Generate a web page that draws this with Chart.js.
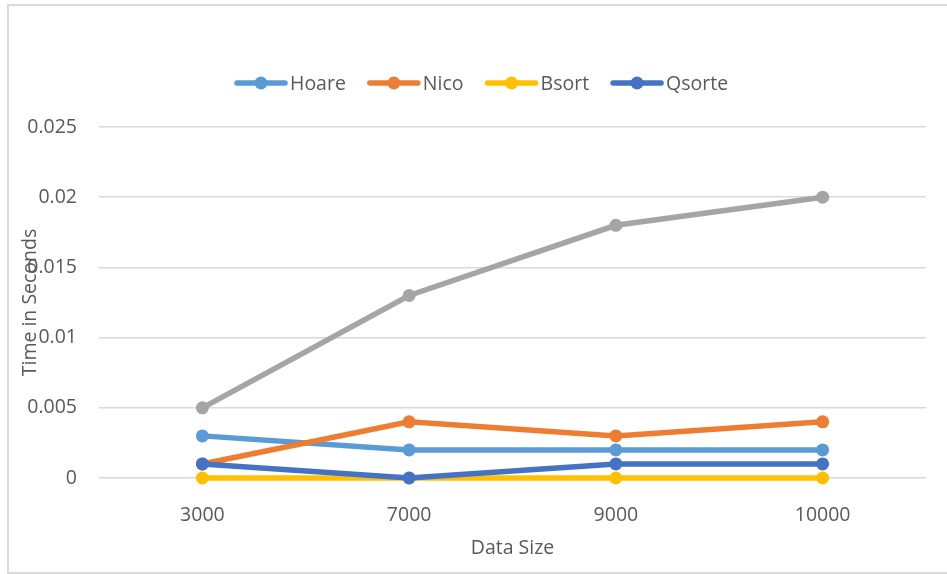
<!DOCTYPE html>
<html>
<head>
<meta charset="utf-8">
<script src="https://cdn.jsdelivr.net/npm/chart.js@4"></script>
<style>
    body { margin: 0; background: #fff; overflow: hidden; }
    #frame { position: absolute; left: 7px; top: 4px; width: 1000px; height: 570px; border: 2px solid #d9d9d9; box-sizing: border-box; }
    #wrap { position: absolute; left: 0; top: 0; width: 947px; height: 574px; }
</style>
</head>
<body>
<div id="frame"></div>
<div id="wrap"><canvas id="myChart" width="947" height="574"></canvas></div>
<script>
// 数据
const dataSizes = ['3000', '7000', '9000', '10000'];
const hoare = [0.003, 0.002, 0.002, 0.002];
const nico = [0.001, 0.004, 0.003, 0.004];
const bsort = [0, 0, 0, 0];
const qsorte = [0.001, 0, 0.001, 0.001];
const series5 = [0.005, 0.013, 0.018, 0.02];
const yTickLabels = ['0', '0.005', '0.01', '0.015', '0.02', '0.025'];

const FONT = '"Open Sans", "Noto Sans", sans-serif';
const TEXT = '#595959';

function line(label, data, color, order) {
    return {
        label: label,
        data: data,
        borderColor: color,
        backgroundColor: color,
        borderWidth: 5.5,
        pointRadius: 6.5,
        pointBorderWidth: 0,
        pointBackgroundColor: color,
        tension: 0,
        clip: false,
        order: order
    };
}

// 图例和坐标轴标题
const extras = {
    id: 'extras',
    afterDraw(chart) {
        const ctx = chart.ctx;
        const area = chart.chartArea;
        ctx.save();
        ctx.font = '19.5px ' + FONT;
        ctx.fillStyle = TEXT;
        ctx.textBaseline = 'middle';

        // legend
        let x = 235;
        const y = 83;
        chart.data.datasets.forEach(ds => {
            if (!ds.inLegend) return;
            ctx.strokeStyle = ds.borderColor;
            ctx.lineWidth = 5.5;
            ctx.lineCap = 'round';
            ctx.beginPath();
            ctx.moveTo(x + 2, y);
            ctx.lineTo(x + 50, y);
            ctx.stroke();
            ctx.fillStyle = ds.borderColor;
            ctx.beginPath();
            ctx.arc(x + 26, y, 6.5, 0, Math.PI * 2);
            ctx.fill();
            ctx.fillStyle = TEXT;
            ctx.textAlign = 'left';
            ctx.fillText(ds.label, x + 55, y + 1);
            x += 55 + ctx.measureText(ds.label).width + 22;
        });

        // x title
        ctx.textAlign = 'center';
        ctx.fillText('Data Size', (area.left + area.right) / 2, 548);

        // y title
        ctx.translate(30, (area.top + area.bottom) / 2);
        ctx.rotate(-Math.PI / 2);
        ctx.fillText('Time in Seconds', 0, 0);
        ctx.restore();
    }
};

const datasets = [
    line('Hoare', hoare, '#5b9bd5', 4),
    line('Nico', nico, '#ed7d31', 3),
    line('Bsort', bsort, '#ffc000', 2),
    line('Qsorte', qsorte, '#4472c4', 1),
    line('Series5', series5, '#a5a5a5', 0)
];
datasets.forEach(ds => { ds.inLegend = ds.label !== 'Series5'; });

const ctx = document.getElementById('myChart').getContext('2d');
const chart = new Chart(ctx, {
    type: 'line',
    data: {
        labels: dataSizes,
        datasets: datasets
    },
    options: {
        responsive: false,
        animation: false,
        events: [],
        layout: {
            padding: { top: 127, right: 21, left: 0, bottom: 0 }
        },
        plugins: {
            legend: { display: false },
            tooltip: { enabled: false }
        },
        scales: {
            x: {
                type: 'category',
                offset: true,
                grid: { display: false, drawTicks: false },
                border: { display: false },
                ticks: {
                    color: TEXT,
                    font: { family: FONT, size: 19.5 },
                    padding: 26,
                    maxRotation: 0
                },
                afterFit(scale) { scale.height = 96; }
            },
            y: {
                min: 0,
                max: 0.025,
                grid: { color: '#d9d9d9', lineWidth: 1.5, drawTicks: false },
                border: { display: false },
                ticks: {
                    stepSize: 0.005,
                    color: TEXT,
                    font: { family: FONT, size: 19.5 },
                    padding: 22,
                    callback: (value, index) => yTickLabels[index]
                },
                afterFit(scale) { scale.width = 99; }
            }
        }
    },
    plugins: [extras]
});
</script>
</body>
</html>
